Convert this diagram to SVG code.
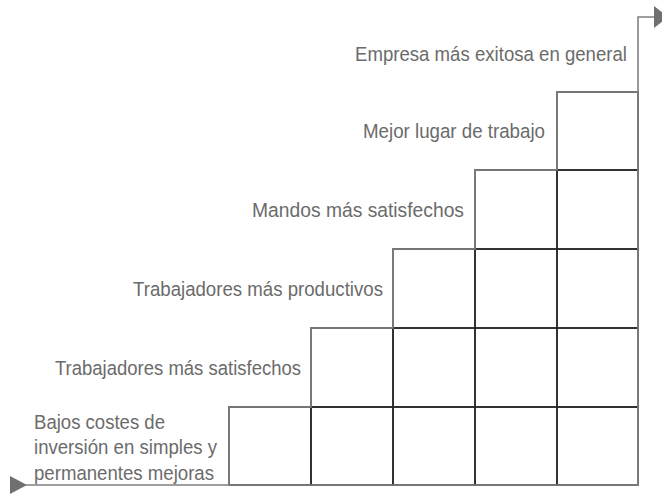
<svg xmlns="http://www.w3.org/2000/svg" width="662" height="494" viewBox="0 0 662 494">
<style>
.lbl{font-family:"Liberation Sans",Arial,sans-serif;font-size:20.5px;fill:#6b6b6b}
.box{fill:none;stroke:#262626;stroke-width:1.5}
.step{fill:none;stroke:#808080;stroke-width:1.6}
</style>
<defs>
<marker id="arr" viewBox="0 0 10 10" refX="0" refY="5" markerWidth="14" markerHeight="22" markerUnits="userSpaceOnUse" orient="auto" preserveAspectRatio="none">
<path d="M0,0 L10,5 L0,10 Z" fill="#707070"/>
</marker>
</defs>
<rect width="662" height="494" fill="#ffffff"/>
<g id="grid">
<g id="col1"><rect class="box" x="229" y="407" width="82" height="78"/></g>
<g id="col2"><rect class="box" x="311" y="407" width="82" height="78"/><rect class="box" x="311" y="328" width="82" height="79"/></g>
<g id="col3"><rect class="box" x="393" y="407" width="82" height="78"/><rect class="box" x="393" y="328" width="82" height="79"/><rect class="box" x="393" y="249" width="82" height="79"/></g>
<g id="col4"><rect class="box" x="475" y="407" width="82" height="78"/><rect class="box" x="475" y="328" width="82" height="79"/><rect class="box" x="475" y="249" width="82" height="79"/><rect class="box" x="475" y="170" width="82" height="79"/></g>
<g id="col5"><rect class="box" x="557" y="407" width="81" height="78"/><rect class="box" x="557" y="328" width="81" height="79"/><rect class="box" x="557" y="249" width="81" height="79"/><rect class="box" x="557" y="170" width="81" height="79"/><rect class="box" x="557" y="92" width="81" height="78"/></g>
</g>
<g id="connectors">
<path class="step" d="M229,485 L229,407 L311,407 L311,328 L393,328 L393,249 L475,249 L475,170 L557,170 L557,92 L638,92"/>
<path d="M10,476 L27,485 L10,494 Z" fill="#707070"/>
<path class="step" d="M25,485 L638,485 L638,17 L654,17" marker-end="url(#arr)"/>
</g>
<g id="n1"><text class="lbl" x="34" y="428.5" textLength="131" lengthAdjust="spacingAndGlyphs">Bajos costes de</text><text class="lbl" x="34" y="454" textLength="183" lengthAdjust="spacingAndGlyphs">inversión en simples y</text><text class="lbl" x="34" y="479.5" textLength="180" lengthAdjust="spacingAndGlyphs">permanentes mejoras</text></g>
<g id="n2"><text class="lbl" x="301" y="374.5" text-anchor="end" textLength="246" lengthAdjust="spacingAndGlyphs">Trabajadores más satisfechos</text></g>
<g id="n3"><text class="lbl" x="383" y="295.5" text-anchor="end" textLength="250" lengthAdjust="spacingAndGlyphs">Trabajadores más productivos</text></g>
<g id="n4"><text class="lbl" x="464" y="216.5" text-anchor="end" textLength="212" lengthAdjust="spacingAndGlyphs">Mandos más satisfechos</text></g>
<g id="n5"><text class="lbl" x="545" y="138" text-anchor="end" textLength="182" lengthAdjust="spacingAndGlyphs">Mejor lugar de trabajo</text></g>
<g id="n6"><text class="lbl" x="627" y="60.5" text-anchor="end" textLength="272" lengthAdjust="spacingAndGlyphs">Empresa más exitosa en general</text></g>
</svg>
